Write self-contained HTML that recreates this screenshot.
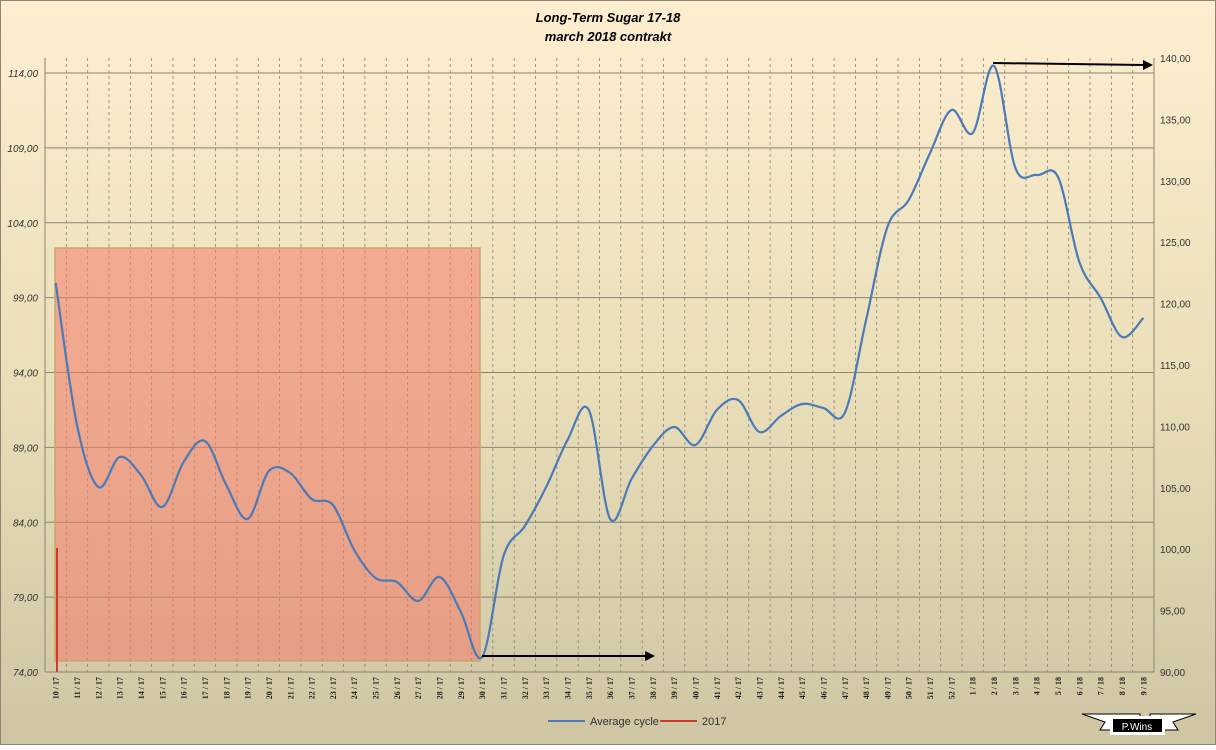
<!DOCTYPE html>
<html><head><meta charset="utf-8"><style>
html,body{margin:0;padding:0;}
body{width:1216px;height:745px;overflow:hidden;font-family:"Liberation Sans",sans-serif;}
</style></head><body>
<svg id="s" width="1216" height="745" xmlns="http://www.w3.org/2000/svg">
<defs>
<linearGradient id="bg" x1="0" y1="0" x2="0" y2="1">
<stop offset="0" stop-color="#fdeed0"/><stop offset="0.5" stop-color="#eadfb9"/><stop offset="1" stop-color="#cfc5a3"/>
</linearGradient>
</defs>
<rect x="0" y="0" width="1216" height="745" fill="url(#bg)" stroke="#8a8574" stroke-width="2"/>
<text x="608" y="22" text-anchor="middle" font-size="13" font-weight="bold" font-style="italic" fill="#000">Long-Term Sugar 17-18</text>
<text x="608" y="41" text-anchor="middle" font-size="13" font-weight="bold" font-style="italic" fill="#000">march 2018 contrakt</text>
<g id="grid"></g>
<rect x="55" y="248" width="425" height="413" fill="#f47a6a" fill-opacity="0.55" stroke="#c8a868" stroke-width="1.5"/>
<line x1="57" y1="548" x2="57" y2="672" stroke="#d0392b" stroke-width="2"/>
<path id="ser" fill="none" stroke="#4a7ab8" stroke-width="2.2"/>
<line x1="482" y1="656" x2="648" y2="656" stroke="#000" stroke-width="2"/>
<polygon points="655,656 645,651 645,661" fill="#000"/>
<line x1="993" y1="63" x2="1146" y2="65" stroke="#000" stroke-width="2"/>
<polygon points="1153,65 1143,60 1143,70" fill="#000"/>
<line x1="548" y1="721" x2="585" y2="721" stroke="#4a7ab8" stroke-width="2"/>
<text x="590" y="725" font-size="11" fill="#333">Average cycle</text>
<line x1="660" y1="721" x2="697" y2="721" stroke="#d0392b" stroke-width="2"/>
<text x="702" y="725" font-size="11" fill="#333">2017</text>
<polygon points="1082,714 1105,722 1100,730 1140,730 1140,714" fill="#fff" stroke="#000"/>
<polygon points="1196,714 1173,722 1178,730 1150,730 1150,714" fill="#fff" stroke="#000"/>
<rect x="1110" y="716" width="55" height="19" fill="#fff"/>
<rect x="1113" y="719" width="49" height="13" fill="#000"/>
<text x="1137" y="730" text-anchor="middle" font-size="10" fill="#fff">P.Wins</text>
</svg>
<script>
var ns="http://www.w3.org/2000/svg",g=document.getElementById('grid');
function el(t,a,txt){var e=document.createElementNS(ns,t);for(var k in a)e.setAttribute(k,a[k]);if(txt!==undefined)e.textContent=txt;g.appendChild(e);return e;}
var L=45,R=1154,T=58,B=672,W=(R-L)/52;
for(var i=0;i<=52;i++){var x=L+i*W;el('line',{x1:x,y1:T,x2:x,y2:B,stroke:'#8a8574','stroke-dasharray':'3,3','stroke-width':0.8});}
for(var v=74;v<=114;v+=5){var y=672-(v-74)*14.975;el('line',{x1:L,y1:y,x2:R,y2:y,stroke:'#8a8574','stroke-width':1});
el('text',{x:38,y:y+4,'text-anchor':'end','font-size':10,'font-style':'italic',fill:'#333'},v.toFixed(2).replace('.',','));}
for(var v=90;v<=140;v+=5){var y=672-(v-90)*12.28;el('text',{x:1160,y:y+4,'font-size':10,fill:'#333'},v.toFixed(2).replace('.',','));}
el('line',{x1:L,y1:T,x2:L,y2:B,stroke:'#8a8574'});el('line',{x1:R,y1:T,x2:R,y2:B,stroke:'#8a8574'});
var labs=[];for(var w=10;w<=52;w++)labs.push(w+' / 17');for(var w=1;w<=9;w++)labs.push(w+' / 18');
labs.forEach(function(s,i){var x=L+W*(i+0.5)+3;el('text',{x:0,y:0,transform:'translate('+x+',677) rotate(-90)','text-anchor':'end','font-size':8,'font-family':'Liberation Serif, serif','font-weight':'bold',fill:'#222'},s);});
var ys=[283,425,487,457,475,507,462,441,485,519,471,473,499,505,550,578,582,601,577,612,657,556,526,487,440,410,519,479,446,427,445,410,400,432,416,404,408,413,320,227,200,153,110,133,66,168,175,177,262,298,337,318];
var p=ys.map(function(y,i){return [L+W*(i+0.5),y];});
var d='M'+p[0][0]+','+p[0][1];
for(var i=0;i<p.length-1;i++){var p0=p[i-1]||p[i],p1=p[i],p2=p[i+1],p3=p[i+2]||p2;
d+=' C'+(p1[0]+(p2[0]-p0[0])/6)+','+(p1[1]+(p2[1]-p0[1])/6)+' '+(p2[0]-(p3[0]-p1[0])/6)+','+(p2[1]-(p3[1]-p1[1])/6)+' '+p2[0]+','+p2[1];}
document.getElementById('ser').setAttribute('d',d);
</script>
</body></html>
